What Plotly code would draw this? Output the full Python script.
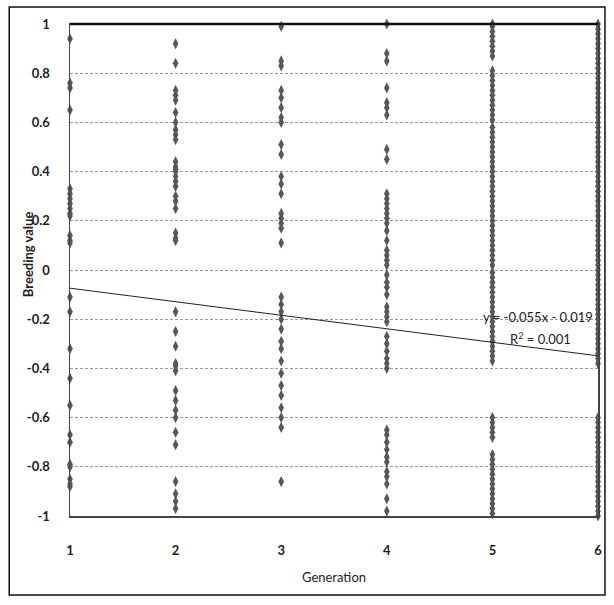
import plotly.graph_objects as go

generation = [1, 2, 3, 4, 5, 6]

g1 = [0.94, 0.76, 0.74, 0.65, 0.33, 0.31, 0.29, 0.27, 0.25, 0.23, 0.22, 0.14, 0.12, 0.11,
      -0.11, -0.17, -0.32, -0.44, -0.55, -0.67, -0.70, -0.79, -0.80, -0.85, -0.87, -0.88]
g2 = [0.92, 0.84, 0.73, 0.71, 0.69, 0.64, 0.60, 0.57, 0.55, 0.53, 0.44, 0.42, 0.41, 0.40,
      0.38, 0.36, 0.34, 0.30, 0.28, 0.25, 0.15, 0.13, 0.12, -0.17, -0.25, -0.31, -0.38,
      -0.39, -0.41, -0.49, -0.53, -0.57, -0.60, -0.66, -0.71, -0.86, -0.91, -0.94, -0.97]
g3 = [0.99, 0.85, 0.83, 0.73, 0.70, 0.66, 0.62, 0.60, 0.51, 0.47, 0.38, 0.35, 0.31, 0.23,
      0.21, 0.19, 0.17, 0.11, -0.11, -0.14, -0.17, -0.20, -0.24, -0.29, -0.32, -0.37,
      -0.42, -0.47, -0.51, -0.56, -0.60, -0.64, -0.86]
g4 = [1.00, 0.88, 0.85, 0.74, 0.68, 0.66, 0.63, 0.49, 0.45, 0.31, 0.29, 0.27, 0.25, 0.23,
      0.21, 0.19, 0.16, 0.12, 0.08, 0.06, 0.04, 0.02, -0.02, -0.05, -0.07, -0.10, -0.15,
      -0.17, -0.19, -0.21, -0.27, -0.30, -0.33, -0.36, -0.38, -0.40, -0.65, -0.67, -0.70,
      -0.73, -0.76, -0.78, -0.82, -0.84, -0.87, -0.93, -0.98]
g5 = [1.00, 0.99, 0.97, 0.95, 0.93, 0.91, 0.89, 0.87, 0.81, 0.79, 0.77, 0.75, 0.73, 0.71,
      0.69, 0.67, 0.65, 0.63, 0.61, 0.58, 0.56, 0.54, 0.52, 0.50, 0.48, 0.46, 0.44, 0.42,
      0.40, 0.38, 0.36, 0.34, 0.32, 0.30, 0.28, 0.26, 0.24, 0.22, 0.20, 0.18, 0.16, 0.14,
      0.12, 0.10, 0.08, 0.06, 0.04, 0.02, -0.01, -0.03, -0.05, -0.07, -0.09, -0.11, -0.13,
      -0.15, -0.17, -0.19, -0.21, -0.23, -0.25, -0.27, -0.29, -0.31, -0.33, -0.35, -0.37,
      -0.60, -0.62, -0.64, -0.66, -0.68, -0.75, -0.77, -0.79, -0.81, -0.83, -0.85, -0.87,
      -0.89, -0.91, -0.93, -0.95, -0.97, -0.99]
g6 = [1.00, 0.98, 0.96, 0.94, 0.92, 0.90, 0.88, 0.86, 0.84, 0.82, 0.80, 0.78, 0.76, 0.74,
      0.72, 0.70, 0.68, 0.66, 0.64, 0.62, 0.60, 0.58, 0.56, 0.54, 0.52, 0.50, 0.48, 0.46,
      0.44, 0.42, 0.40, 0.38, 0.36, 0.34, 0.32, 0.30, 0.28, 0.26, 0.24, 0.22, 0.20, 0.18,
      0.16, 0.14, 0.12, 0.10, 0.08, 0.06, 0.04, 0.02, 0.00, -0.02, -0.04, -0.06, -0.08,
      -0.10, -0.12, -0.14, -0.16, -0.18, -0.20, -0.22, -0.24, -0.26, -0.28, -0.30, -0.32,
      -0.34, -0.36, -0.38, -0.60, -0.62, -0.64, -0.66, -0.68, -0.70, -0.72, -0.74, -0.76,
      -0.78, -0.80, -0.82, -0.84, -0.86, -0.88, -0.90, -0.92, -0.94, -0.96, -0.98, -1.00]

groups = [g1, g2, g3, g4, g5, g6]

slope = -0.055
intercept = -0.019
r2 = 0.001

ytick_vals = [1, 0.8, 0.6, 0.4, 0.2, 0, -0.2, -0.4, -0.6, -0.8, -1]
ytick_text = ["1", "0.8", "0.6", "0.4", "0.2", "0", "-0.2", "-0.4", "-0.6", "-0.8", "-1"]

xs, ys = [], []
for g, vals in zip(generation, groups):
    xs += [g] * len(vals)
    ys += vals

FONT = "Lato, 'Open Sans', sans-serif"

fig = go.Figure()
fig.add_trace(go.Scatter(
    x=xs, y=ys, mode="markers", cliponaxis=False,
    marker=dict(symbol="diamond-tall", size=8, color="#585858", line=dict(width=0)),
    showlegend=False, hoverinfo="skip"))

x_line = [generation[0], generation[-1]]
y_line = [slope * v + intercept for v in x_line]
fig.add_trace(go.Scatter(x=x_line, y=y_line, mode="lines", cliponaxis=False,
                         line=dict(color="#222222", width=1), showlegend=False,
                         hoverinfo="skip"))

W, H = 614, 605
L, R, T, B = 70, 14, 24, 89
pw, ph = W - L - R, H - T - B

def px_x(p):
    return (p - L) / pw

def px_y(p):
    return 1 - (p - T) / ph

fig.update_layout(
    width=W, height=H,
    margin=dict(l=L, r=R, t=T, b=B),
    paper_bgcolor="white", plot_bgcolor="white",
    font=dict(family=FONT, color="#222222"),
    xaxis=dict(range=[1, 6], tickvals=generation, ticktext=[str(g) for g in generation],
               showgrid=False, zeroline=False, showline=True, linecolor="#444444",
               linewidth=1.5, mirror=True, ticks="", ticklabelstandoff=22,
               tickfont=dict(size=13, family=FONT, color="#222222", weight="bold"),
               title=dict(text="Generation", font=dict(size=13, family=FONT), standoff=16)),
    yaxis=dict(range=[-1, 1], tickvals=ytick_vals, ticktext=ytick_text,
               showgrid=True, gridcolor="#9a9a9a", griddash="3px,2px", gridwidth=1,
               zeroline=False, showline=True, linecolor="#444444", linewidth=1.5,
               mirror=True, ticks="", ticklabelstandoff=16,
               tickfont=dict(size=13, family=FONT, color="#222222", weight="bold")),
    shapes=[
        dict(type="rect", xref="paper", yref="paper",
             x0=px_x(9), x1=px_x(607), y0=px_y(595), y1=px_y(7),
             line=dict(color="#111111", width=1.5), fillcolor="rgba(0,0,0,0)", layer="below"),
        dict(type="line", xref="paper", yref="paper", x0=0, x1=1, y0=1, y1=1,
             line=dict(color="#111111", width=2.5)),
    ],
    annotations=[
        dict(x=px_x(28), y=px_y(254), xref="paper", yref="paper", showarrow=False,
             xanchor="center", yanchor="middle",
             textangle=-90, text="Breeding value",
             font=dict(size=13, family=FONT, color="#222222", weight="bold")),
        dict(x=5.43, y=-0.19, xref="x", yref="y", showarrow=False,
             xanchor="center", yanchor="middle",
             text=f"y = {slope}x - {abs(intercept)}", font=dict(size=13, family=FONT, color="#222222")),
        dict(x=5.46, y=-0.28, xref="x", yref="y", showarrow=False,
             xanchor="center", yanchor="middle",
             text=f"R<sup>2</sup> = {r2}", font=dict(size=13, family=FONT, color="#222222")),
    ],
)

fig.write_html("out.html", config={"displayModeBar": False, "staticPlot": True},
               post_script="document.body.style.margin='0';document.body.style.overflow='hidden';")
